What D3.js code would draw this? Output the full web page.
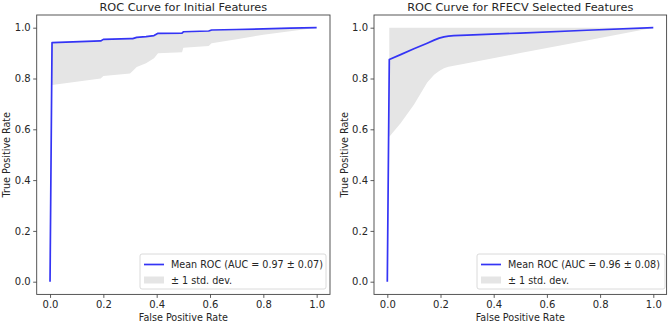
<!DOCTYPE html>
<html>
<head>
<meta charset="utf-8">
<script src="https://cdn.jsdelivr.net/npm/d3@7"></script>
<style>
  body { margin: 0; background: #fff; }
  svg { display: block; font-family: "DejaVu Sans", sans-serif; }
</style>
</head>
<body>
<div id="chart"></div>
<script>
// Initial features: mean ROC and +/- 1 std band (upper edge follows the mean)
const initialFpr   = [0, 0.0075, 0.19, 0.2, 0.3, 0.31, 0.325, 0.36, 0.39, 0.405, 0.495, 0.5, 0.595, 0.606, 0.7, 0.8, 0.9, 1.0];
const initialMean  = [0, 0.941, 0.948, 0.954, 0.957, 0.957, 0.962, 0.965, 0.969, 0.978, 0.979, 0.984, 0.987, 0.991, 0.993, 0.995, 0.998, 1.0];
const initialLower = [0, 0.774, 0.800, 0.810, 0.820, 0.830, 0.845, 0.860, 0.880, 0.899, 0.903, 0.921, 0.928, 0.939, 0.955, 0.972, 0.986, 1.0];
const initialUpper = initialMean;

// RFECV selected features
const rfecvFpr   = [0, 0.0075, 0.05, 0.1, 0.15, 0.176, 0.195, 0.213, 0.23, 0.25, 0.3, 0.5, 0.75, 1.0];
const rfecvMean  = [0, 0.875, 0.894, 0.917, 0.939, 0.951, 0.959, 0.964, 0.967, 0.969, 0.971, 0.979, 0.990, 1.0];
const rfecvLower = [0, 0.571, 0.624, 0.697, 0.784, 0.815, 0.830, 0.840, 0.846, 0.850, 0.860, 0.900, 0.950, 1.0];
const rfecvUpper = [0, 1, 1, 1, 1, 1, 1, 1, 1, 1, 1, 1, 1, 1];

const tickValues = [0, 0.2, 0.4, 0.6, 0.8, 1.0];

const panels = [
  { title: "ROC Curve for Initial Features", fpr: initialFpr, mean: initialMean, lower: initialLower, upper: initialUpper,
    label: "Mean ROC (AUC = 0.97 \u00b1 0.07)", left: 36.7, right: 330, legendX: 140, legendW: 186 },
  { title: "ROC Curve for RFECV Selected Features", fpr: rfecvFpr, mean: rfecvMean, lower: rfecvLower, upper: rfecvUpper,
    label: "Mean ROC (AUC = 0.96 \u00b1 0.08)", left: 374, right: 666.6, legendX: 477, legendW: 188 }
];

const W = 669, H = 323;
const plotTop = 15, plotBottom = 294.4;

const svg = d3.select("#chart").append("svg")
  .attr("width", W)
  .attr("height", H);

panels.forEach(p => {
  const x = d3.scaleLinear().domain([-0.05, 1.05]).range([p.left, p.right]);
  const y = d3.scaleLinear().domain([-0.05, 1.05]).range([plotBottom, plotTop]);
  const g = svg.append("g");
  const pts = p.fpr.map((f, i) => ({ f: f, m: p.mean[i], lo: p.lower[i], hi: p.upper[i] }));

  // std band
  g.append("path")
    .datum(pts.slice(1))
    .attr("fill", "#e5e5e5")
    .attr("d", d3.area().x(d => x(d.f)).y0(d => y(d.lo)).y1(d => y(d.hi)));

  // mean line
  g.append("path")
    .datum(pts)
    .attr("fill", "none")
    .attr("stroke", "#3434f5")
    .attr("stroke-width", 1.7)
    .attr("stroke-linejoin", "round")
    .attr("d", d3.line().x(d => x(d.f)).y(d => y(d.m)));

  // axes
  const xAxis = g.append("g")
    .attr("transform", `translate(0,${plotBottom})`)
    .call(d3.axisBottom(x).tickValues(tickValues).tickFormat(d3.format(".1f")).tickSize(3.5).tickPadding(3));
  const yAxis = g.append("g")
    .attr("transform", `translate(${p.left},0)`)
    .call(d3.axisLeft(y).tickValues(tickValues).tickFormat(d3.format(".1f")).tickSize(3.5).tickPadding(2.5));
  [xAxis, yAxis].forEach(a => {
    a.select(".domain").remove();
    a.selectAll("line").attr("stroke", "#333").attr("stroke-width", 0.8);
    a.selectAll("text").style("font-family", "DejaVu Sans").style("font-size", "10px").attr("fill", "#262626");
  });

  // frame
  g.append("rect")
    .attr("x", p.left).attr("y", plotTop)
    .attr("width", p.right - p.left).attr("height", plotBottom - plotTop)
    .attr("fill", "none").attr("stroke", "#444").attr("stroke-width", 0.9);

  // title and labels
  g.append("text")
    .attr("x", (p.left + p.right) / 2).attr("y", 10.5)
    .attr("text-anchor", "middle")
    .style("font-size", "11.3px").attr("fill", "#262626")
    .text(p.title);
  g.append("text")
    .attr("x", (p.left + p.right) / 2).attr("y", 320.5)
    .attr("text-anchor", "middle")
    .style("font-size", "9.6px").attr("fill", "#262626")
    .text("False Positive Rate");
  g.append("text")
    .attr("transform", `translate(${p.left - 26.5},${(plotTop + plotBottom) / 2}) rotate(-90)`)
    .attr("text-anchor", "middle")
    .style("font-size", "9.6px").attr("fill", "#262626")
    .text("True Positive Rate");

  // legend
  const lg = g.append("g").attr("transform", `translate(${p.legendX},254)`);
  lg.append("rect")
    .attr("width", p.legendW).attr("height", 35).attr("rx", 2)
    .attr("fill", "#fff").attr("fill-opacity", 0.8)
    .attr("stroke", "#d0d0d0").attr("stroke-width", 0.8);
  lg.append("line")
    .attr("x1", 4).attr("x2", 24).attr("y1", 10.5).attr("y2", 10.5)
    .attr("stroke", "#3434f5").attr("stroke-width", 1.7);
  lg.append("rect")
    .attr("x", 4).attr("y", 22.5).attr("width", 20).attr("height", 7)
    .attr("fill", "#e5e5e5");
  lg.append("text")
    .attr("x", 31).attr("y", 14)
    .style("font-size", "9.6px").attr("fill", "#262626")
    .text(p.label);
  lg.append("text")
    .attr("x", 31).attr("y", 29.5)
    .style("font-size", "9.6px").attr("fill", "#262626")
    .text("\u00b1 1 std. dev.");
});
</script>
</body>
</html>
